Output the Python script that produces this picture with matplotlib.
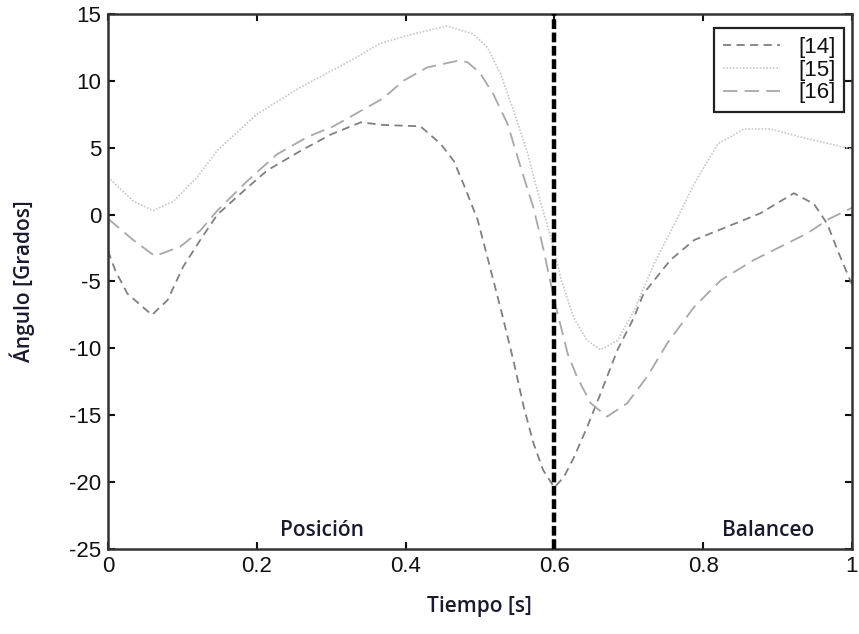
import numpy as np
import matplotlib
matplotlib.use('Agg')
import matplotlib.pyplot as plt
plt.rcParams['axes.unicode_minus'] = False

###############################################################################
# Data
###############################################################################
X14 = [0, 0.01, 0.026, 0.059, 0.08, 0.101, 0.124, 0.147, 0.187, 0.214, 0.26,
       0.30, 0.34, 0.37, 0.42, 0.447, 0.465, 0.48, 0.497, 0.512, 0.53, 0.545,
       0.559, 0.572, 0.585, 0.6, 0.613, 0.626, 0.644, 0.662, 0.685, 0.707,
       0.72, 0.756, 0.788, 0.846, 0.877, 0.922, 0.949, 0.967, 0.981, 1.0]
Y14 = [-2.7, -4.2, -5.9, -7.5, -6.4, -3.9, -1.9, 0.0, 2.0, 3.3, 4.8,
       6.0, 6.9, 6.7, 6.6, 5.3, 4.0, 2.0, -0.4, -3.6, -7.5, -10.9,
       -14.4, -17.1, -19.1, -20.4, -19.6, -18.2, -15.9, -13.4, -10.1, -7.7,
       -5.9, -3.4, -1.9, -0.6, 0.1, 1.6, 0.8, -0.7, -2.7, -5.2]

X15 = [0, 0.034, 0.061, 0.088, 0.12, 0.147, 0.2, 0.258, 0.326, 0.366, 0.41,
       0.456, 0.491, 0.51, 0.528, 0.545, 0.564, 0.581, 0.595, 0.61, 0.626,
       0.644, 0.662, 0.685, 0.707, 0.734, 0.766, 0.788, 0.82, 0.855, 0.891,
       0.931, 1.0]
Y15 = [2.8, 1.0, 0.3, 1.0, 2.8, 4.8, 7.5, 9.5, 11.5, 12.8, 13.5,
       14.1, 13.5, 12.5, 10.5, 7.8, 4.6, 1.0, -1.6, -5.0, -7.7,
       -9.4, -10.1, -9.4, -7.2, -3.7, -0.2, 2.3, 5.3, 6.4, 6.4,
       5.8, 4.9]

X16 = [0, 0.034, 0.063, 0.097, 0.124, 0.147, 0.187, 0.227, 0.268, 0.303,
       0.335, 0.37, 0.397, 0.429, 0.47, 0.483, 0.5, 0.518, 0.537, 0.555,
       0.572, 0.585, 0.6, 0.618, 0.631, 0.649, 0.671, 0.698, 0.725, 0.752,
       0.788, 0.824, 0.868, 0.922, 0.94, 0.97, 1.0]
Y16 = [-0.3, -1.9, -3.1, -2.4, -1.2, 0.3, 2.5, 4.5, 5.8, 6.6,
       7.6, 8.7, 10.0, 11.0, 11.5, 11.4, 10.6, 9.0, 6.8, 3.5,
       0.5, -2.5, -6.4, -10.4, -12.2, -14.1, -15.1, -14.1, -12.1, -9.6,
       -6.9, -4.9, -3.4, -1.9, -1.4, -0.3, 0.5]

LABELS = ['[14]', '[15]', '[16]']
X_TICKS = [0, 0.2, 0.4, 0.6, 0.8, 1]
X_TICKLABELS = ['0', '0.2', '0.4', '0.6', '0.8', '1']
Y_TICKS = [-25, -20, -15, -10, -5, 0, 5, 10, 15]
SPLIT = 0.6

###############################################################################
# Styles
###############################################################################
STYLE_14 = {'color': '#808080', 'lw': 1.3, 'ls': (0, (4.5, 3))}
STYLE_15 = {'color': '#c8c8c8', 'lw': 1.2, 'ls': (0, (1, 1))}
STYLE_16 = {'color': '#a8a8a8', 'lw': 1.3, 'ls': (0, (8, 4))}
STYLE_TX = {'color': '#1a1a2e', 'size': 15, 'family': 'Open Sans'}
STYLE_TK = {'color': '#111111', 'size': 16, 'family': 'Liberation Sans'}

fig = plt.figure(figsize=(8.59, 6.34), dpi=100)
ax = fig.add_axes([0.1257, 0.134, 0.866, 0.844])

ax.plot(X14, Y14, color=STYLE_14['color'], lw=STYLE_14['lw'], ls=STYLE_14['ls'], label=LABELS[0])
ax.plot(X15, Y15, color=STYLE_15['color'], lw=STYLE_15['lw'], ls=STYLE_15['ls'], label=LABELS[1])
ax.plot(X16, Y16, color=STYLE_16['color'], lw=STYLE_16['lw'], ls=STYLE_16['ls'], label=LABELS[2])
ax.axvline(SPLIT, color='black', lw=3.2, ls=(0, (2.2, 0.8)), zorder=5)

ax.set_xlim(0, 1)
ax.set_ylim(-25, 15)
ax.set_xticks(X_TICKS)
ax.set_xticklabels(X_TICKLABELS)
ax.set_yticks(Y_TICKS)
ax.tick_params(direction='in', top=True, right=True, length=5, width=1.5,
               labelsize=STYLE_TK['size'], colors=STYLE_TK['color'], pad=5)
for lab in ax.get_xticklabels() + ax.get_yticklabels():
    lab.set_family(STYLE_TK['family'])
for sp in ax.spines.values():
    sp.set_linewidth(1.8)
    sp.set_color('#333333')

ax.set_xlabel('Tiempo [s]', fontsize=STYLE_TX['size'], fontweight='semibold',
              family=STYLE_TX['family'], color=STYLE_TX['color'], labelpad=14)
ax.set_ylabel('Ángulo [Grados]', fontsize=STYLE_TX['size'], fontweight='semibold',
              family=STYLE_TX['family'], color=STYLE_TX['color'], labelpad=24)

ax.text(0.288, -23.6, 'Posición', ha='center', va='center', fontsize=STYLE_TX['size'],
        fontweight='semibold', family=STYLE_TX['family'], color=STYLE_TX['color'])
ax.text(0.888, -23.6, 'Balanceo', ha='center', va='center', fontsize=STYLE_TX['size'],
        fontweight='semibold', family=STYLE_TX['family'], color=STYLE_TX['color'])

leg = ax.legend(loc='upper right', bbox_to_anchor=(0.99, 0.974), fancybox=False,
                framealpha=1, edgecolor='#222222', handlelength=2.6,
                borderpad=0.4, labelspacing=0.08, handletextpad=0.8,
                borderaxespad=0.0,
                prop={'family': STYLE_TK['family'], 'size': STYLE_TK['size']})
leg.get_frame().set_linewidth(1.6)
for t in leg.get_texts():
    t.set_color(STYLE_TK['color'])

fig.savefig('out.png', dpi=100, facecolor='white')
plt.close('all')
